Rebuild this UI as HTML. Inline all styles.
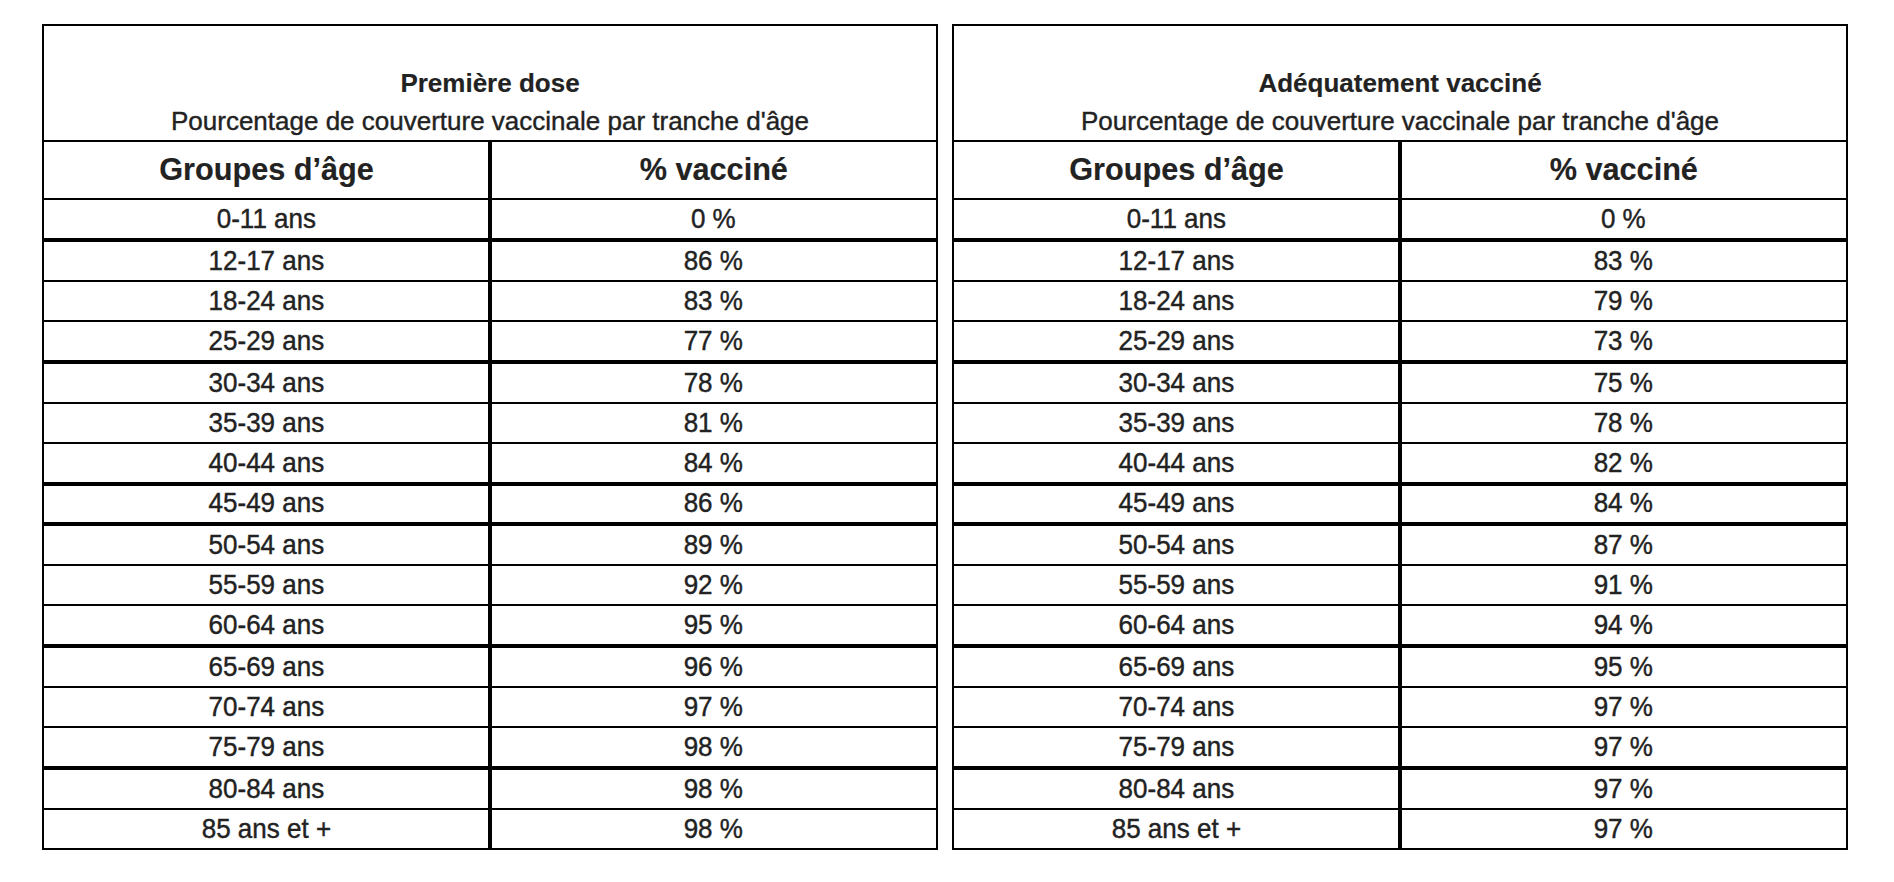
<!DOCTYPE html>
<html lang="fr"><head><meta charset="utf-8"><title>Couverture vaccinale par tranche d'âge</title>
<style>
html,body{margin:0;padding:0;background:#fff}
body{width:1894px;height:882px;position:relative;overflow:hidden;font-family:"Liberation Sans",sans-serif;color:#222}
.l{position:absolute;background:#000}
.t{position:absolute;text-align:center;white-space:nowrap;line-height:1;transform-origin:50% 84.65%;-webkit-text-stroke:0.4px #222}
.r{font-size:26px;transform:scaleY(1.03)}
.h{font-size:30.67px;font-weight:bold;transform:scaleY(1.02);-webkit-text-stroke-width:0.15px}
.ti{font-size:26px;font-weight:bold;-webkit-text-stroke-width:0.15px}
.su{font-size:26px}
</style></head><body>

<section>
<div class="l" style="left:42px;top:24px;width:896px;height:2px"></div>
<div class="l" style="left:42px;top:140px;width:896px;height:2px"></div>
<div class="l" style="left:42px;top:198px;width:896px;height:2px"></div>
<div class="l" style="left:42px;top:238px;width:896px;height:4px"></div>
<div class="l" style="left:42px;top:280px;width:896px;height:2px"></div>
<div class="l" style="left:42px;top:320px;width:896px;height:2px"></div>
<div class="l" style="left:42px;top:360px;width:896px;height:4px"></div>
<div class="l" style="left:42px;top:402px;width:896px;height:2px"></div>
<div class="l" style="left:42px;top:442px;width:896px;height:2px"></div>
<div class="l" style="left:42px;top:482px;width:896px;height:4px"></div>
<div class="l" style="left:42px;top:522px;width:896px;height:4px"></div>
<div class="l" style="left:42px;top:564px;width:896px;height:2px"></div>
<div class="l" style="left:42px;top:604px;width:896px;height:2px"></div>
<div class="l" style="left:42px;top:644px;width:896px;height:4px"></div>
<div class="l" style="left:42px;top:686px;width:896px;height:2px"></div>
<div class="l" style="left:42px;top:726px;width:896px;height:2px"></div>
<div class="l" style="left:42px;top:766px;width:896px;height:4px"></div>
<div class="l" style="left:42px;top:808px;width:896px;height:2px"></div>
<div class="l" style="left:42px;top:848px;width:896px;height:2px"></div>
<div class="l" style="left:42px;top:24px;width:2px;height:826px"></div>
<div class="l" style="left:936px;top:24px;width:2px;height:826px"></div>
<div class="l" style="left:488px;top:140px;width:4px;height:710px"></div>
<div class="t ti" style="left:42px;width:896px;top:69.99px">Première dose</div>
<div class="t su" style="left:42px;width:896px;top:107.69px">Pourcentage de couverture vaccinale par tranche d'âge</div>
<div class="t h" style="left:42.5px;width:448px;top:154.14px">Groupes d’âge</div>
<div class="t h" style="left:489.8px;width:448px;top:154.14px">% vacciné</div>
<div class="t r" style="left:42.4px;width:448px;top:206.19px">0-11 ans</div>
<div class="t r" style="left:489.3px;width:448px;top:206.19px">0 %</div>
<div class="t r" style="left:42.4px;width:448px;top:248.19px">12-17 ans</div>
<div class="t r" style="left:489.3px;width:448px;top:248.19px">86 %</div>
<div class="t r" style="left:42.4px;width:448px;top:288.19px">18-24 ans</div>
<div class="t r" style="left:489.3px;width:448px;top:288.19px">83 %</div>
<div class="t r" style="left:42.4px;width:448px;top:328.19px">25-29 ans</div>
<div class="t r" style="left:489.3px;width:448px;top:328.19px">77 %</div>
<div class="t r" style="left:42.4px;width:448px;top:370.19px">30-34 ans</div>
<div class="t r" style="left:489.3px;width:448px;top:370.19px">78 %</div>
<div class="t r" style="left:42.4px;width:448px;top:410.19px">35-39 ans</div>
<div class="t r" style="left:489.3px;width:448px;top:410.19px">81 %</div>
<div class="t r" style="left:42.4px;width:448px;top:450.19px">40-44 ans</div>
<div class="t r" style="left:489.3px;width:448px;top:450.19px">84 %</div>
<div class="t r" style="left:42.4px;width:448px;top:490.19px">45-49 ans</div>
<div class="t r" style="left:489.3px;width:448px;top:490.19px">86 %</div>
<div class="t r" style="left:42.4px;width:448px;top:532.19px">50-54 ans</div>
<div class="t r" style="left:489.3px;width:448px;top:532.19px">89 %</div>
<div class="t r" style="left:42.4px;width:448px;top:572.19px">55-59 ans</div>
<div class="t r" style="left:489.3px;width:448px;top:572.19px">92 %</div>
<div class="t r" style="left:42.4px;width:448px;top:612.19px">60-64 ans</div>
<div class="t r" style="left:489.3px;width:448px;top:612.19px">95 %</div>
<div class="t r" style="left:42.4px;width:448px;top:654.19px">65-69 ans</div>
<div class="t r" style="left:489.3px;width:448px;top:654.19px">96 %</div>
<div class="t r" style="left:42.4px;width:448px;top:694.19px">70-74 ans</div>
<div class="t r" style="left:489.3px;width:448px;top:694.19px">97 %</div>
<div class="t r" style="left:42.4px;width:448px;top:734.19px">75-79 ans</div>
<div class="t r" style="left:489.3px;width:448px;top:734.19px">98 %</div>
<div class="t r" style="left:42.4px;width:448px;top:776.19px">80-84 ans</div>
<div class="t r" style="left:489.3px;width:448px;top:776.19px">98 %</div>
<div class="t r" style="left:42.4px;width:448px;top:816.19px">85 ans et +</div>
<div class="t r" style="left:489.3px;width:448px;top:816.19px">98 %</div>
</section>
<section>
<div class="l" style="left:952px;top:24px;width:896px;height:2px"></div>
<div class="l" style="left:952px;top:140px;width:896px;height:2px"></div>
<div class="l" style="left:952px;top:198px;width:896px;height:2px"></div>
<div class="l" style="left:952px;top:238px;width:896px;height:4px"></div>
<div class="l" style="left:952px;top:280px;width:896px;height:2px"></div>
<div class="l" style="left:952px;top:320px;width:896px;height:2px"></div>
<div class="l" style="left:952px;top:360px;width:896px;height:4px"></div>
<div class="l" style="left:952px;top:402px;width:896px;height:2px"></div>
<div class="l" style="left:952px;top:442px;width:896px;height:2px"></div>
<div class="l" style="left:952px;top:482px;width:896px;height:4px"></div>
<div class="l" style="left:952px;top:522px;width:896px;height:4px"></div>
<div class="l" style="left:952px;top:564px;width:896px;height:2px"></div>
<div class="l" style="left:952px;top:604px;width:896px;height:2px"></div>
<div class="l" style="left:952px;top:644px;width:896px;height:4px"></div>
<div class="l" style="left:952px;top:686px;width:896px;height:2px"></div>
<div class="l" style="left:952px;top:726px;width:896px;height:2px"></div>
<div class="l" style="left:952px;top:766px;width:896px;height:4px"></div>
<div class="l" style="left:952px;top:808px;width:896px;height:2px"></div>
<div class="l" style="left:952px;top:848px;width:896px;height:2px"></div>
<div class="l" style="left:952px;top:24px;width:2px;height:826px"></div>
<div class="l" style="left:1846px;top:24px;width:2px;height:826px"></div>
<div class="l" style="left:1398px;top:140px;width:4px;height:710px"></div>
<div class="t ti" style="left:952px;width:896px;top:69.99px">Adéquatement vacciné</div>
<div class="t su" style="left:952px;width:896px;top:107.69px">Pourcentage de couverture vaccinale par tranche d'âge</div>
<div class="t h" style="left:952.5px;width:448px;top:154.14px">Groupes d’âge</div>
<div class="t h" style="left:1399.8px;width:448px;top:154.14px">% vacciné</div>
<div class="t r" style="left:952.4px;width:448px;top:206.19px">0-11 ans</div>
<div class="t r" style="left:1399.3px;width:448px;top:206.19px">0 %</div>
<div class="t r" style="left:952.4px;width:448px;top:248.19px">12-17 ans</div>
<div class="t r" style="left:1399.3px;width:448px;top:248.19px">83 %</div>
<div class="t r" style="left:952.4px;width:448px;top:288.19px">18-24 ans</div>
<div class="t r" style="left:1399.3px;width:448px;top:288.19px">79 %</div>
<div class="t r" style="left:952.4px;width:448px;top:328.19px">25-29 ans</div>
<div class="t r" style="left:1399.3px;width:448px;top:328.19px">73 %</div>
<div class="t r" style="left:952.4px;width:448px;top:370.19px">30-34 ans</div>
<div class="t r" style="left:1399.3px;width:448px;top:370.19px">75 %</div>
<div class="t r" style="left:952.4px;width:448px;top:410.19px">35-39 ans</div>
<div class="t r" style="left:1399.3px;width:448px;top:410.19px">78 %</div>
<div class="t r" style="left:952.4px;width:448px;top:450.19px">40-44 ans</div>
<div class="t r" style="left:1399.3px;width:448px;top:450.19px">82 %</div>
<div class="t r" style="left:952.4px;width:448px;top:490.19px">45-49 ans</div>
<div class="t r" style="left:1399.3px;width:448px;top:490.19px">84 %</div>
<div class="t r" style="left:952.4px;width:448px;top:532.19px">50-54 ans</div>
<div class="t r" style="left:1399.3px;width:448px;top:532.19px">87 %</div>
<div class="t r" style="left:952.4px;width:448px;top:572.19px">55-59 ans</div>
<div class="t r" style="left:1399.3px;width:448px;top:572.19px">91 %</div>
<div class="t r" style="left:952.4px;width:448px;top:612.19px">60-64 ans</div>
<div class="t r" style="left:1399.3px;width:448px;top:612.19px">94 %</div>
<div class="t r" style="left:952.4px;width:448px;top:654.19px">65-69 ans</div>
<div class="t r" style="left:1399.3px;width:448px;top:654.19px">95 %</div>
<div class="t r" style="left:952.4px;width:448px;top:694.19px">70-74 ans</div>
<div class="t r" style="left:1399.3px;width:448px;top:694.19px">97 %</div>
<div class="t r" style="left:952.4px;width:448px;top:734.19px">75-79 ans</div>
<div class="t r" style="left:1399.3px;width:448px;top:734.19px">97 %</div>
<div class="t r" style="left:952.4px;width:448px;top:776.19px">80-84 ans</div>
<div class="t r" style="left:1399.3px;width:448px;top:776.19px">97 %</div>
<div class="t r" style="left:952.4px;width:448px;top:816.19px">85 ans et +</div>
<div class="t r" style="left:1399.3px;width:448px;top:816.19px">97 %</div>
</section>
</body></html>
